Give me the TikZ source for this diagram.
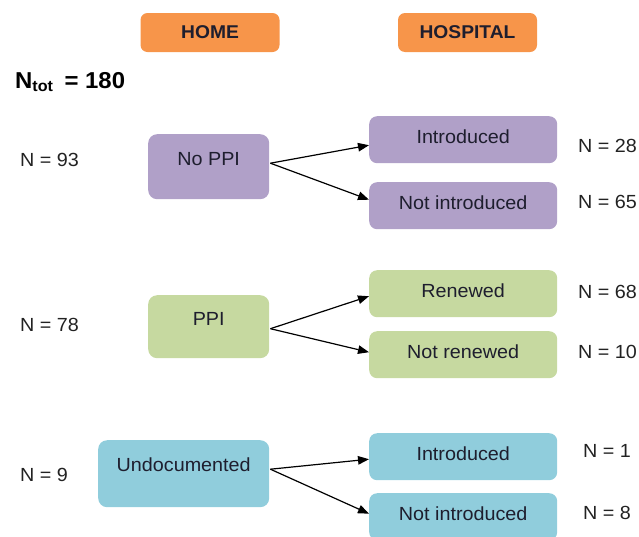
\documentclass[tikz,border=0pt]{standalone}
\usepackage{fontspec}
\setmainfont[FakeStretch=1.04]{Liberation Sans}
\usetikzlibrary{arrows.meta,calc}
\definecolor{orng}{HTML}{F7954A}
\definecolor{purp}{HTML}{B0A0C8}
\definecolor{grn}{HTML}{C6D9A0}
\definecolor{blu}{HTML}{90CDDC}
\definecolor{txt}{HTML}{1E1E2E}
\definecolor{ntxt}{HTML}{222222}
\begin{document}
\begin{tikzpicture}[x=1pt,y=-1pt,
  hdr/.style={fill=orng, rounded corners=7pt, inner sep=0pt, minimum width=139pt, minimum height=39pt, font=\fontsize{18.5}{20}\selectfont\bfseries, text=txt},
  lbox/.style={rounded corners=9pt, inner xsep=0pt, inner ysep=0pt, minimum width=#1, font=\fontsize{19}{21}\selectfont, text=txt, anchor=north west},
  rbox/.style={rounded corners=8pt, inner sep=0pt, minimum width=188pt, minimum height=47pt, text height=16pt, text depth=9pt, font=\fontsize{19}{21}\selectfont, text=txt, anchor=north west},
  nlab/.style={font=\fontsize{19}{21}\selectfont, text=ntxt, anchor=west, inner sep=0pt},
  arr/.style={-{Triangle[length=11pt,width=8.5pt]}, line width=1.2pt, black}
]
\useasboundingbox (0,0) rectangle (639,536);

% headers
\node[hdr] (home) at (210,32.5) {HOME};
\node[hdr] (hosp) at (467.5,32.5) {HOSPITAL};

% total
\node[anchor=west, inner sep=0pt, font=\fontsize{23}{25}\selectfont\bfseries, text=black] (ntot) at (15,82)
  {N\raisebox{-0.3ex}{\fontsize{15.5}{16}\selectfont tot}\hspace{0.5em}= 180};

% group 1
\node[lbox=121pt, fill=purp, text height=31pt, text depth=34pt] (noppi) at (148,134) {No PPI};
\node[rbox, fill=purp] (intro1) at (369,116) {Introduced};
\node[rbox, fill=purp] (notintro1) at (369,182) {Not introduced};
\node[nlab] (n93) at (20,160) {N = 93};
\node[nlab] (n28) at (578,146) {N = 28};
\node[nlab] (n65) at (578,202) {N = 65};
\draw[arr] ($(noppi.east)+(1,-3.5)$) -- ($(intro1.west)+(0,5.5)$);
\draw[arr] ($(noppi.east)+(1,-3.5)$) -- ($(notintro1.west)+(0,-6)$);

% group 2
\node[lbox=121pt, fill=grn, text height=30pt, text depth=33pt] (ppi) at (148,295) {PPI};
\node[rbox, fill=grn] (renew) at (369,270) {Renewed};
\node[rbox, fill=grn] (notrenew) at (369,331) {Not renewed};
\node[nlab] (n78) at (20,325) {N = 78};
\node[nlab] (n68) at (578,292) {N = 68};
\node[nlab] (n10) at (578,352) {N = 10};
\draw[arr] ($(ppi.east)+(1,2)$) -- ($(renew.west)+(0,2.5)$);
\draw[arr] ($(ppi.east)+(1,2)$) -- ($(notrenew.west)+(0,-2.5)$);

% group 3
\node[lbox=171pt, fill=blu, text height=31pt, text depth=36pt] (undoc) at (98,440) {Undocumented};
\node[rbox, fill=blu] (intro3) at (369,433) {Introduced};
\node[rbox, fill=blu] (notintro3) at (369,493) {Not introduced};
\node[nlab] (n9) at (20,475) {N = 9};
\node[nlab] (n1) at (583,451) {N = 1};
\node[nlab] (n8) at (583,513) {N = 8};
\draw[arr] ($(undoc.east)+(1,-4.5)$) -- ($(intro3.west)+(0,2.5)$);
\draw[arr] ($(undoc.east)+(1,-4.5)$) -- ($(notintro3.west)+(0,-3)$);
\end{tikzpicture}
\end{document}
